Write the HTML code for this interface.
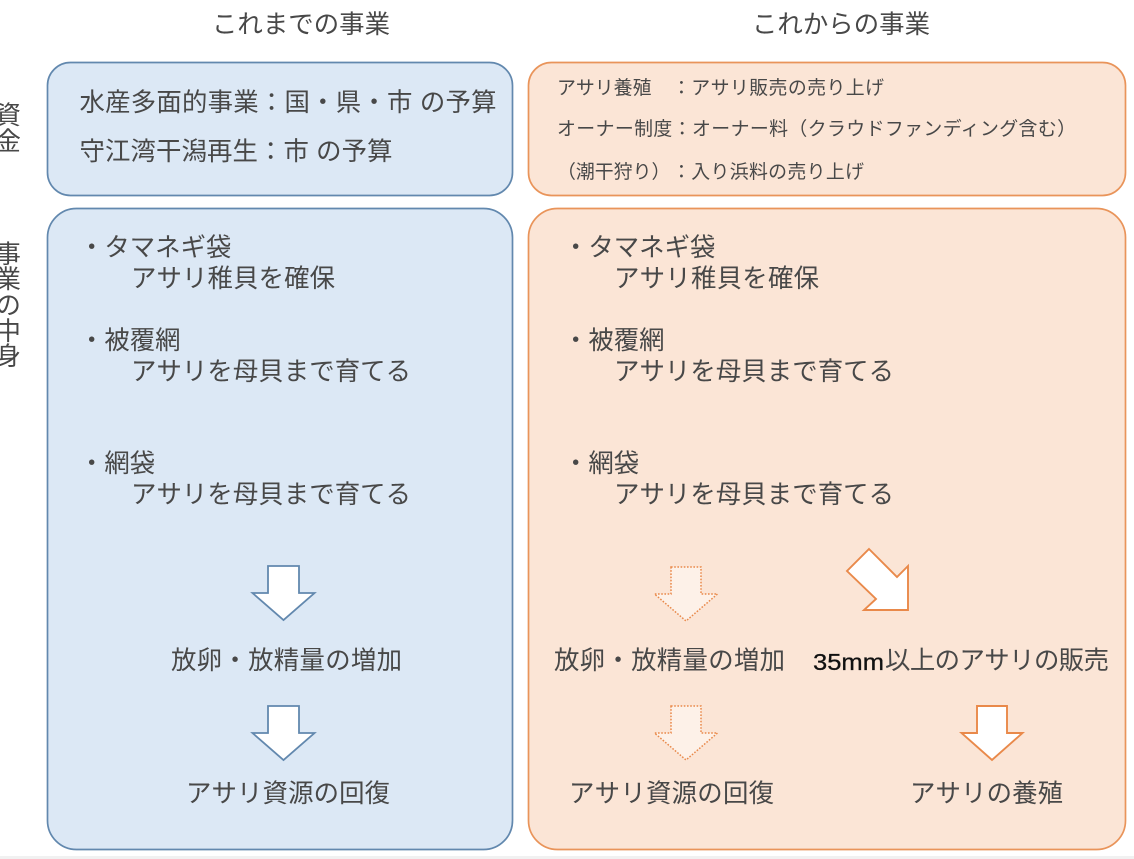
<!DOCTYPE html>
<html lang="ja">
<head>
<meta charset="utf-8">
<title>事業の比較</title>
<style>
html,body{margin:0;padding:0;background:#fff;width:1134px;height:859px;overflow:hidden}
svg{display:block;filter:blur(0.35px)}
text{font-family:"Liberation Sans","Noto Sans CJK JP",sans-serif;fill:#484848;font-size:25.4px}
.s{font-size:18.9px}
</style>
</head>
<body>
<svg width="1134" height="859" viewBox="0 0 1134 859" xmlns="http://www.w3.org/2000/svg">
<rect x="0" y="856" width="1134" height="3" fill="#f1f1f1"/>

<rect x="47.5" y="62.5" width="465" height="133" rx="23" fill="#dce8f5" stroke="#6288ae" stroke-width="1.7"/>
<rect x="47.5" y="208.5" width="465" height="641" rx="29" fill="#dce8f5" stroke="#6288ae" stroke-width="1.7"/>
<rect x="528.5" y="62.5" width="597" height="133" rx="23" fill="#fbe5d6" stroke="#e9945a" stroke-width="1.7"/>
<rect x="528.5" y="208.5" width="597" height="641" rx="29" fill="#fbe5d6" stroke="#e9945a" stroke-width="1.7"/>

<text x="212" y="33" textLength="178">これまでの事業</text>
<text x="752" y="33" textLength="178">これからの事業</text>

<text x="-4.5" y="124">資</text>
<text x="-4.5" y="150">金</text>
<text x="-4.5" y="263">事</text>
<text x="-4.5" y="288">業</text>
<text x="-4.5" y="314">の</text>
<text x="-4.5" y="340">中</text>
<text x="-4.5" y="365">身</text>

<text x="79.5" y="111" textLength="417">水産多面的事業&#xFF1A;国・県・市 の予算</text>
<text x="79.5" y="160" textLength="313">守江湾干潟再生&#xFF1A;市 の予算</text>

<text x="79" y="256">・タマネギ袋</text>
<text x="131" y="287" textLength="204">アサリ稚貝を確保</text>
<text x="79" y="349">・被覆網</text>
<text x="131" y="380" textLength="280">アサリを母貝まで育てる</text>
<text x="79" y="472">・網袋</text>
<text x="131" y="503" textLength="280">アサリを母貝まで育てる</text>
<text x="171" y="669" textLength="231">放卵・放精量の増加</text>
<text x="186" y="802" textLength="204">アサリ資源の回復</text>

<text class="s" x="557" y="94">アサリ養殖</text>
<text class="s" x="672" y="94" textLength="212">&#xFF1A;アサリ販売の売り上げ</text>
<text class="s" x="557" y="135" textLength="519">オーナー制度&#xFF1A;オーナー料&#xFF08;クラウドファンディング含む&#xFF09;</text>
<text class="s" x="557" y="178">&#xFF08;潮干狩り&#xFF09;</text>
<text class="s" x="672" y="178" textLength="192">&#xFF1A;入り浜料の売り上げ</text>

<text x="563" y="256">・タマネギ袋</text>
<text x="614" y="287" textLength="205">アサリ稚貝を確保</text>
<text x="563" y="349">・被覆網</text>
<text x="614" y="380" textLength="280">アサリを母貝まで育てる</text>
<text x="563" y="472">・網袋</text>
<text x="614" y="503" textLength="280">アサリを母貝まで育てる</text>
<text x="554" y="669" textLength="231">放卵・放精量の増加</text>
<text x="569" y="802" textLength="205">アサリ資源の回復</text>
<text x="813" y="670" style="fill:#111;font-size:23px;stroke:#111;stroke-width:0.3" textLength="71" lengthAdjust="spacingAndGlyphs">35mm</text>
<text x="885" y="669" textLength="224">以上のアサリの販売</text>
<text x="910" y="802" textLength="153">アサリの養殖</text>

<g fill="#fff" stroke="#6288ae" stroke-width="1.8" stroke-linejoin="miter">
<polygon points="268,566 299,566 299,593 314.5,593 283.5,620 252.5,593 268,593"/>
<polygon points="268,706 299,706 299,733 314.5,733 283.5,760 252.5,733 268,733"/>
</g>
<g fill="#fff" stroke="#e9894a" stroke-width="1.9" stroke-linejoin="miter">
<polygon points="869,549 897,577 908,566 908,610 864,610 876,599 847,571"/>
<polygon points="977,706 1007,706 1007,733 1022.5,733 992,760 961.5,733 977,733"/>
</g>
<g fill="#fdf1e8" stroke="#e9894a" stroke-width="1.5" stroke-dasharray="1.6 1.6">
<polygon points="671,567 701,567 701,594 717.5,594 686,621 654.5,594 671,594"/>
<polygon points="671,706 701,706 701,733 717.5,733 686,760 654.5,733 671,733"/>
</g>
</svg>
</body>
</html>
